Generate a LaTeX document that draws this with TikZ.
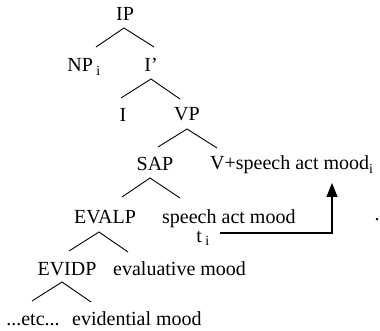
\documentclass[tikz,border=0pt]{standalone}
\usepackage{fontspec}
\setmainfont{Liberation Serif}
\usetikzlibrary{arrows.meta}
\begin{document}
\begin{tikzpicture}[x=1pt,y=-1pt,
  lbl/.style={inner sep=0pt,anchor=base,font=\fontsize{20}{24}\selectfont},
  lblw/.style={lbl,anchor=base west},
  leg/.style={line width=0.9pt},
  move/.style={line width=1.2pt,-{Triangle[length=14pt,width=11pt]}}]
\useasboundingbox (0,0) rectangle (380,331);
\node[lbl] (IP) at (125,21) {IP};
\node[lbl] (NPi) at (84,72) {NP\,\textsubscript{i}};
\node[lbl] (Ibar) at (151,72) {I'};
\node[lbl] (I) at (123,122) {I};
\node[lbl] (VP) at (187,121) {VP};
\node[lbl] (SAP) at (155,171) {SAP};
\node[lblw] (Vmood) at (210,170) {V+speech act mood\textsubscript{i}};
\node[lbl] (EVALP) at (105,223) {EVALP};
\node[lblw] (samood) at (162,223) {speech act mood};
\node[lbl] (ti) at (203,242) {t\,\textsubscript{i}};
\node[lbl] (EVIDP) at (67,275) {EVIDP};
\node[lblw] (evalmood) at (113,275) {evaluative mood};
\node[lbl] (etc) at (33,325) {...etc...};
\node[lblw] (evidmood) at (72,325) {evidential mood};
\node[lbl] (dot) at (377,221) {.};
% branches
\draw[leg] ([xshift=12pt,yshift=25pt]NPi.base) -- ([xshift=-1pt,yshift=-7pt]IP.base) -- ([xshift=3pt,yshift=25pt]Ibar.base);
\draw[leg] ([xshift=-2pt,yshift=24pt]I.base) -- ([yshift=-7pt]Ibar.base) -- ([xshift=-7pt,yshift=22pt]VP.base);
\draw[leg] ([xshift=3pt,yshift=24pt]SAP.base) -- ([yshift=-8pt]VP.base) -- ([xshift=7pt,yshift=22pt]Vmood.base west);
\draw[leg] ([xshift=17pt,yshift=26pt]EVALP.base) -- ([xshift=-5pt,yshift=-7pt]SAP.base) -- ([xshift=18pt,yshift=25pt]samood.base west);
\draw[leg] ([xshift=2pt,yshift=24pt]EVIDP.base) -- ([xshift=-6pt,yshift=-9pt]EVALP.base) -- ([xshift=15pt,yshift=23pt]evalmood.base west);
\draw[leg] ([xshift=-1pt,yshift=24pt]etc.base) -- ([xshift=-5pt,yshift=-7pt]EVIDP.base) -- ([xshift=19pt,yshift=23pt]evidmood.base west);
% movement
\draw[move] ([xshift=17pt,yshift=9pt]ti.base) -| ([xshift=122pt,yshift=-13pt]Vmood.base west);
\end{tikzpicture}
\end{document}
